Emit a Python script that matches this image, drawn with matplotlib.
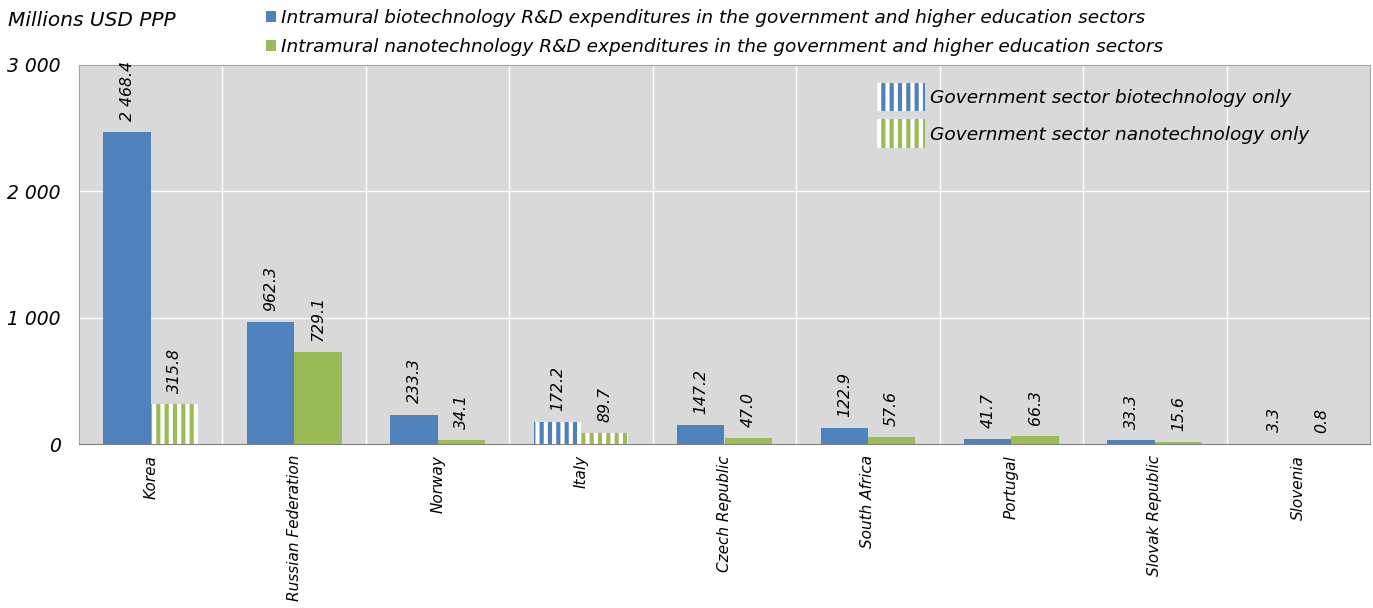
import matplotlib
matplotlib.use("Agg")
import matplotlib.pyplot as plt
from matplotlib.patches import Patch
import numpy as np

# data
countries = ["Korea", "Russian Federation", "Norway", "Italy", "Czech Republic",
             "South Africa", "Portugal", "Slovak Republic", "Slovenia"]
biotech = [2468.4, 962.3, 233.3, 172.2, 147.2, 122.9, 41.7, 33.3, 3.3]
nanotech = [315.8, 729.1, 34.1, 89.7, 47.0, 57.6, 66.3, 15.6, 0.8]
biotech_gov_only = [False, False, False, True, False, False, False, False, False]
nanotech_gov_only = [True, False, False, True, False, False, False, False, False]
yticks = [0, 1000, 2000, 3000]

blue = "#4F81BD"
green = "#9BBB59"

plt.rcParams["font.family"] = ["DejaVu Sans"]
plt.rcParams["font.style"] = "italic"
plt.rcParams["hatch.linewidth"] = 3.0

fig = plt.figure(figsize=(13.73, 6.08), dpi=100)
ax = fig.add_axes([79 / 1373, 1 - 444 / 608, (1370 - 79) / 1373, (444 - 65) / 608])
ax.set_facecolor("#D9D9D9")

x = np.arange(len(countries))
w = 0.33


def fmt(v):
    return f"{v:,.1f}".replace(",", " ")


for i in x:
    for off, vals, flags, col in [(-w / 2, biotech, biotech_gov_only, blue),
                                  (w / 2, nanotech, nanotech_gov_only, green)]:
        if flags[i]:
            ax.bar(i + off, vals[i], w, color=col, edgecolor="white",
                   linewidth=0, hatch="||", zorder=3)
        else:
            ax.bar(i + off, vals[i], w, color=col, linewidth=0, zorder=3)
        ax.annotate(fmt(vals[i]), (i + off, vals[i]), xytext=(0, 8),
                    textcoords="offset points", rotation=90, ha="center",
                    va="bottom", fontsize=11.3)

ax.set_xlim(-0.5, len(countries) - 0.5)
ax.set_ylim(0, 3000)
ax.set_yticks(yticks)
ax.set_yticklabels([f"{t:,}".replace(",", " ") for t in yticks], fontsize=13.5)
ax.set_xticks(x)
ax.set_xticklabels(countries, rotation=90, fontsize=11, ha="center", va="top")
ax.tick_params(length=0, axis="y", pad=13)
ax.tick_params(length=0, axis="x", pad=8)

# grid: horizontal at ticks, vertical between categories
for t in yticks[1:-1]:
    ax.axhline(t, color="white", lw=1, zorder=1)
for b in x[:-1] + 0.5:
    ax.axvline(b, color="white", lw=1, zorder=1)

for s in ["top", "right", "left"]:
    ax.spines[s].set_color("#A6A6A6")
ax.spines["bottom"].set_color("#7F7F7F")

fig.text(8 / 1373, 1 - 20 / 608, "Millions USD PPP", fontsize=14.5, va="center")

top_handles = [Patch(facecolor=blue),
               Patch(facecolor=green)]
fig.legend(top_handles,
           ["Intramural biotechnology R&D expenditures in the government and higher education sectors",
            "Intramural nanotechnology R&D expenditures in the government and higher education sectors"],
           loc="upper left", bbox_to_anchor=(251 / 1373, 1 + 6 / 608), frameon=False,
           fontsize=13.3, handlelength=0.55, handleheight=0.55, handletextpad=0.25,
           labelspacing=0.6, borderpad=0.3)

hatch_handles = [Patch(facecolor=blue, edgecolor="white", linewidth=0, hatch="||"),
                 Patch(facecolor=green, edgecolor="white", linewidth=0, hatch="||")]
ax.legend(hatch_handles, ["Government sector biotechnology only",
                          "Government sector nanotechnology only"],
          loc="upper left", bbox_to_anchor=((860 - 79) / 1291, 1 - 1 / 379),
          frameon=False, fontsize=13.3, handlelength=2.6, handleheight=2.0,
          handletextpad=0.3, labelspacing=0.45)

fig.savefig("out.png", dpi=100)
